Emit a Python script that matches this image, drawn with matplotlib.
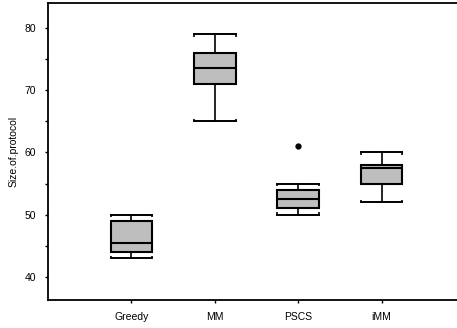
import numpy as np
import matplotlib.pyplot as plt

plt.rcParams['font.family'] = ['Liberation Sans', 'DejaVu Sans']

# values
methods = ['Greedy', 'MM', 'PSCS', 'iMM']
whis_lo = [43, 65, 50, 52]
q1 = [44, 71, 51, 55]
medians = [45.5, 73.5, 52.5, 57.5]
q3 = [49, 76, 54, 58]
whis_hi = [50, 79, 55, 60]
outliers = [[], [], [61], []]

stats = []
for i, name in enumerate(methods):
    stats.append(dict(label=name, whislo=whis_lo[i], q1=q1[i], med=medians[i],
                      q3=q3[i], whishi=whis_hi[i], fliers=outliers[i]))

fig = plt.figure(figsize=(4.57, 3.28), dpi=100)
# frame runs off the right edge of the image in the reference
ax = fig.add_axes([48 / 457, 28 / 328, 417 / 457, 297 / 328])

pos = np.arange(1, len(methods) + 1)
ax.bxp(stats, positions=pos, widths=0.5, capwidths=0.5, patch_artist=True,
       boxprops=dict(facecolor='#BEBEBE', edgecolor='black', linewidth=1.5),
       medianprops=dict(color='black', linewidth=1.5),
       whiskerprops=dict(color='black', linewidth=1.2),
       capprops=dict(color='black', linewidth=1.4),
       flierprops=dict(marker='o', markerfacecolor='black', markeredgecolor='black', markersize=3.5))

# little hooks on the whisker caps
for p, lo, hi in zip(pos, whis_lo, whis_hi):
    ax.vlines([p - 0.25, p + 0.25], hi - 0.4, hi, color='black', linewidth=1.2)
    ax.vlines([p - 0.25, p + 0.25], lo, lo + 0.4, color='black', linewidth=1.2)

ax.set_xlim(0, 5)
ax.set_ylim(36.3, 84.0)
ax.set_xticks(pos)
ax.set_xticklabels(methods)
ax.set_yticks([40, 50, 60, 70, 80])
ax.set_yticks([45, 55, 65, 75], minor=True)
ax.tick_params(axis='both', which='both', direction='out', length=2.5, width=1.0, labelsize=7.5, colors='black')
ax.tick_params(axis='y', which='major', pad=6)
ax.tick_params(axis='x', pad=6)
ax.set_ylabel('Size.of.protocol', fontsize=7.5, labelpad=4)

ax.spines['right'].set_visible(False)
for s in ['left', 'bottom', 'top']:
    ax.spines[s].set_linewidth(1.3)

fig.savefig('out.png', dpi=100)
